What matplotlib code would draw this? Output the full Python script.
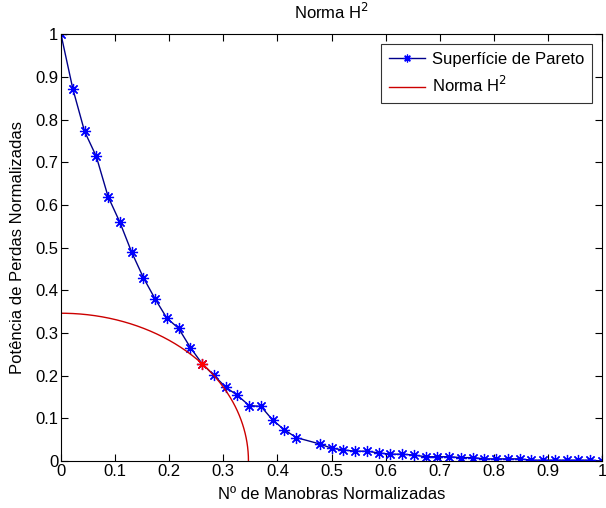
import numpy as np
import matplotlib
matplotlib.use("Agg")
import matplotlib.pyplot as plt

# Pareto front: normalized number of maneuvers vs normalized losses
manobras = np.array([0, 1, 2, 3, 4, 5, 6, 7, 8, 9, 10, 11, 12, 13, 14, 15, 16, 17,
                     18, 19, 20, 22, 23, 24, 25, 26, 27, 28, 29, 30, 31, 32, 33,
                     34, 35, 36, 37, 38, 39, 40, 41, 42, 43, 44, 45, 46]) / 46
perdas = np.array([1.0, 0.873, 0.773, 0.714, 0.620, 0.560, 0.490, 0.430, 0.380,
                   0.335, 0.311, 0.266, 0.228, 0.201, 0.173, 0.154, 0.130, 0.128,
                   0.096, 0.073, 0.055, 0.040, 0.030, 0.026, 0.023, 0.023, 0.019,
                   0.016, 0.016, 0.014, 0.010, 0.010, 0.010, 0.008, 0.008, 0.005,
                   0.005, 0.005, 0.005, 0.002, 0.002, 0.002, 0.002, 0.002, 0.002,
                   0.0])

plt.rcParams["font.family"] = ["Liberation Sans", "DejaVu Sans"]
plt.rcParams["font.size"] = 12

fig = plt.figure(figsize=(6.06, 5.08), dpi=100)
ax = fig.add_axes([0.1007, 0.0925, 0.8927, 0.8396])

# point closest to origin (H2 norm)
dist = np.hypot(manobras, perdas)
k = np.argmin(dist)
r = dist[k]
t = np.linspace(0, np.pi / 2, 200)

star = (8, 2, 0)
ax.plot(manobras, perdas, "-", color="#00008b", marker=star, markersize=8,
        markeredgecolor="blue", markerfacecolor="blue", markeredgewidth=0.9,
        lw=1, label="Superfície de Pareto")
ax.plot(r * np.cos(t), r * np.sin(t), color="#cc0000", lw=1,
        label="Norma H$^2$")
ax.plot(manobras[k], perdas[k], marker=star, linestyle="none",
        markeredgecolor="red", markersize=8, markeredgewidth=0.9)

ax.set_xlim(0, 1)
ax.set_ylim(0, 1)
ticks = np.arange(0, 1.01, 0.1)
labels = ["0"] + ["%.1f" % v for v in ticks[1:-1]] + ["1"]
ax.set_xticks(ticks)
ax.set_xticklabels(labels)
ax.set_yticks(ticks)
ax.set_yticklabels(labels)
ax.tick_params(direction="in", top=True, right=True, length=5, pad=2)

ax.set_title("Norma H$^2$", fontsize=12, pad=11)
ax.set_xlabel("Nº de Manobras Normalizadas", labelpad=6)
ax.set_ylabel("Potência de Perdas Normalizadas", labelpad=7)

leg = ax.legend(loc="upper right", fancybox=False, edgecolor="black",
                fontsize=12, borderaxespad=0.6, handlelength=2.2,
                handletextpad=0.4, markerscale=0.7, borderpad=0.45,
                labelspacing=0.5)
leg.get_frame().set_linewidth(0.8)

fig.savefig("out.png", dpi=100)
